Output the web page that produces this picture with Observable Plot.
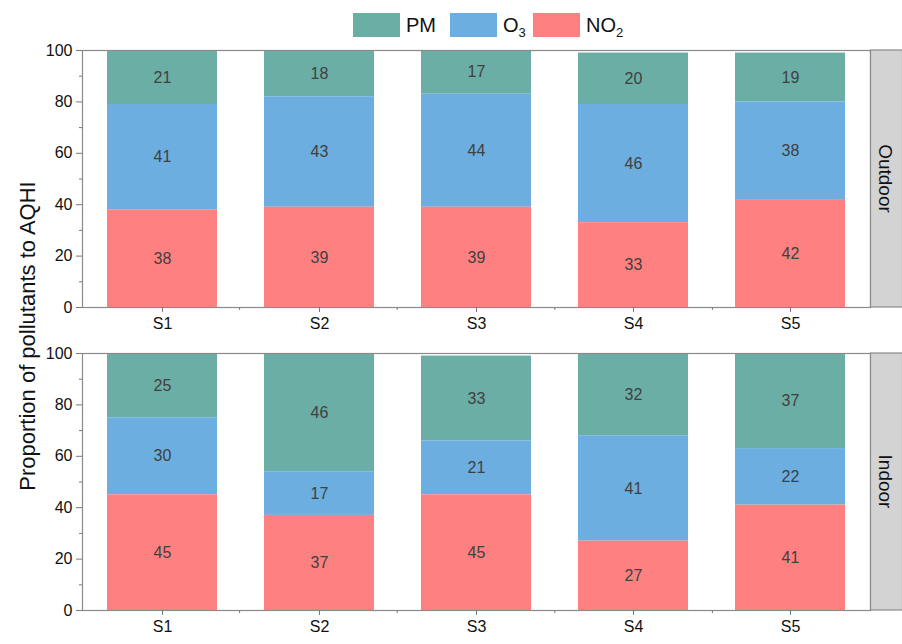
<!DOCTYPE html>
<html>
<head>
<meta charset="utf-8">
<script src="https://cdn.jsdelivr.net/npm/d3@7"></script>
<script src="https://cdn.jsdelivr.net/npm/@observablehq/plot@0.6"></script>
<style>
  body { margin: 0; background: #fff; font-family: "Liberation Sans", Arial, sans-serif; }
  #wrap { position: relative; width: 902px; height: 644px; }
  #legend { position: relative; height: 40px; }
  .item { position: absolute; top: 13px; display: flex; align-items: center; }
  .sw { width: 47px; height: 24px; margin-right: 6px; }
  .lab { font-size: 20px; color: #111; line-height: 24px; }
  .lab sub { font-size: 13px; vertical-align: -5px; line-height: 0; }
</style>
</head>
<body>
<div id="wrap">
  <div id="legend"></div>
  <div id="chart"></div>
</div>
<script>
// Sites, settings and pollutant shares (%) contributing to AQHI
const sites = ["S1", "S2", "S3", "S4", "S5"];
const settings = ["Outdoor", "Indoor"];
const pollutants = ["PM", "O3", "NO2"];
const pollutantLabels = ["PM", "O<sub>3</sub>", "NO<sub>2</sub>"];
const stackOrder = ["NO2", "O3", "PM"];
const colors = ["#6aaea6", "#6caedf", "#fe8080"];

const outdoorPM  = [21, 18, 17, 20, 19];
const outdoorO3  = [41, 43, 44, 46, 38];
const outdoorNO2 = [38, 39, 39, 33, 42];
const indoorPM   = [25, 46, 33, 32, 37];
const indoorO3   = [30, 17, 21, 41, 22];
const indoorNO2  = [45, 37, 45, 27, 41];

const yTicks = [0, 20, 40, 60, 80, 100];
const yMinor = [10, 30, 50, 70, 90];
const yTitle = "Proportion of pollutants to AQHI";

// Long-format rows for Plot
const series = {
  Outdoor: {PM: outdoorPM, O3: outdoorO3, NO2: outdoorNO2},
  Indoor: {PM: indoorPM, O3: indoorO3, NO2: indoorNO2}
};
const rows = [];
for (const setting of settings)
  for (const pollutant of pollutants)
    series[setting][pollutant].forEach((value, i) =>
      rows.push({setting, site: sites[i], pollutant, value}));

// Legend
const legend = document.getElementById("legend");
const legendX = [353, 450, 533];
pollutants.forEach((p, i) => {
  const item = document.createElement("div");
  item.className = "item";
  item.style.left = legendX[i] + "px";
  item.innerHTML = `<div class="sw" style="background:${colors[i]}"></div><span class="lab">${pollutantLabels[i]}</span>`;
  legend.appendChild(item);
});

const W = 902, H = 604;
const chart = Plot.plot({
  width: W,
  height: H,
  marginTop: 10,
  marginBottom: 34,
  marginLeft: 82,
  marginRight: 32,
  style: {fontFamily: "Liberation Sans, Arial, sans-serif", fontSize: "15px", color: "#111", background: "transparent"},
  x: {domain: sites, paddingInner: 0.3, paddingOuter: 0.15, label: null},
  y: {domain: [0, 100], label: null},
  fy: {domain: settings, paddingInner: 46 / 303, paddingOuter: 0, axis: null, label: null},
  color: {domain: pollutants, range: colors},
  marks: [
    Plot.barY(rows, Plot.stackY({
      x: "site", y: "value", fy: "setting", fill: "pollutant", order: stackOrder
    })),
    Plot.text(rows, Plot.stackY({
      x: "site", y: "value", fy: "setting", z: "pollutant", order: stackOrder,
      text: "value", fill: "#404040", fontSize: 16
    })),
    Plot.frame({stroke: "#8a8a8a", strokeWidth: 1.2}),
    Plot.axisY({ticks: yTicks, tickSize: 6, tickPadding: 4, stroke: "#777", fill: "#111", label: null}),
    Plot.axisY({ticks: yMinor, tickSize: 3, tickFormat: () => "", stroke: "#777", label: null}),
    Plot.axisX({facetAnchor: null, tickSize: 5, tickPadding: 5, stroke: "#777", fill: "#111", label: null})
  ]
});
document.getElementById("chart").appendChild(chart);

const svg = d3.select(chart);
// Larger tick labels on both axes
svg.selectAll('g[aria-label$="tick label"]')
  .attr("font-size", null)
  .style("font-size", "16px");

// Facet strips, minor x ticks and the shared y title
const fyDesc = chart.scale("fy");
const fyScale = d3.scaleBand().domain(fyDesc.domain).range(fyDesc.range)
  .paddingInner(fyDesc.paddingInner ?? 46 / 303).paddingOuter(fyDesc.paddingOuter ?? 0);
const xDesc = chart.scale("x");
const xScale = d3.scaleBand().domain(xDesc.domain).range(xDesc.range)
  .paddingInner(xDesc.paddingInner ?? 0.3).paddingOuter(xDesc.paddingOuter ?? 0.15);
const stripX = W - 32;
for (const s of settings) {
  const y0 = fyScale(s), bh = fyScale.bandwidth();
  svg.append("rect")
    .attr("x", stripX + 0.5).attr("y", y0)
    .attr("width", W - stripX).attr("height", bh)
    .attr("fill", "#d3d3d3").attr("stroke", "#8a8a8a").attr("stroke-width", 1.2);
  svg.append("text")
    .attr("transform", `translate(${stripX + 16},${y0 + bh / 2}) rotate(90)`)
    .attr("text-anchor", "middle").attr("dy", "0.35em")
    .attr("font-size", 19).attr("fill", "#111")
    .text(s);
  const step = xScale.step();
  sites.slice(0, -1).forEach(site => {
    const xm = xScale(site) + xScale.bandwidth() + (step - xScale.bandwidth()) / 2;
    svg.append("line")
      .attr("x1", xm).attr("x2", xm)
      .attr("y1", y0 + bh).attr("y2", y0 + bh + 3)
      .attr("stroke", "#777");
  });
}
const [r0, r1] = fyDesc.range;
svg.append("text")
  .attr("transform", `translate(27,${(r0 + r1) / 2 + 6}) rotate(-90)`)
  .attr("text-anchor", "middle").attr("dy", "0.35em")
  .attr("font-size", 22).attr("fill", "#111")
  .text(yTitle);
</script>
</body>
</html>
